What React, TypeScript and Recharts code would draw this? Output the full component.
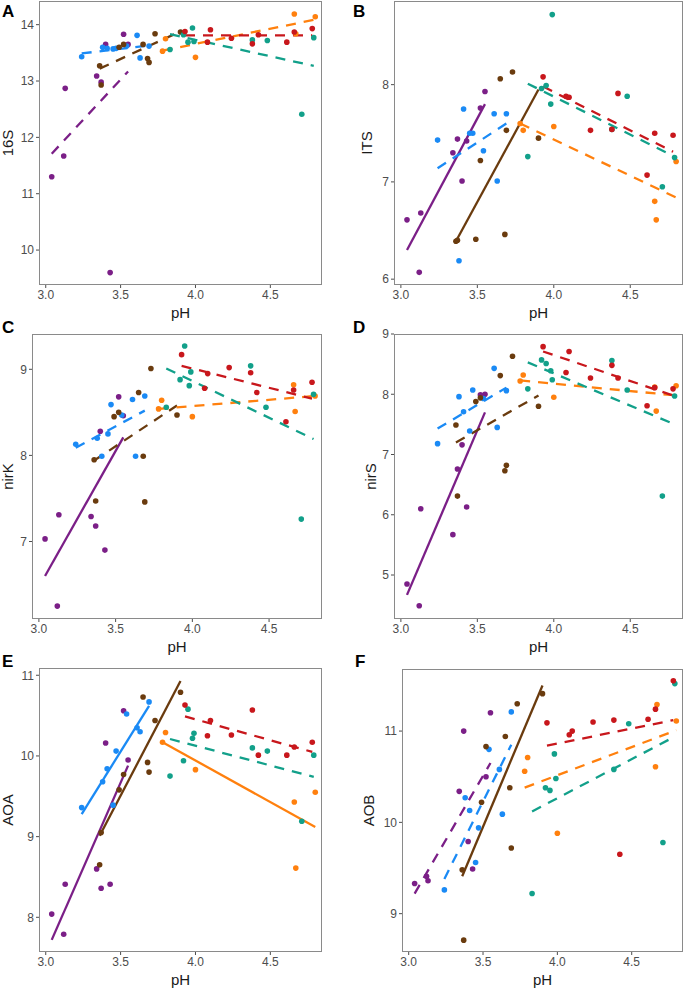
import React from "react";
import { ScatterChart, Scatter, XAxis, YAxis, ReferenceLine, Label } from "recharts";

// sample pH per colour group (same samples in every panel)
const PH_PURPLE = [3.04, 3.12, 3.13, 3.34, 3.37, 3.4, 3.43, 3.52, 3.55];
const PH_BLUE = [3.24, 3.38, 3.41, 3.45, 3.47, 3.54, 3.61, 3.63, 3.69];
const PH_BROWN = [3.36, 3.37, 3.49, 3.52, 3.65, 3.68, 3.69, 3.73, 3.9];
const PH_ORANGE = [3.78, 3.8, 4.0, 4.66, 4.67, 4.8];
const PH_TEAL = [3.83, 3.92, 3.95, 3.98, 3.99, 4.38, 4.48, 4.71, 4.79];
const PH_RED = [3.93, 4.08, 4.1, 4.24, 4.38, 4.42, 4.61, 4.66, 4.78];
const PH = [PH_PURPLE, PH_BLUE, PH_BROWN, PH_ORANGE, PH_TEAL, PH_RED];

const COLORS = ["#7B1F87", "#1A8AF5", "#6A3B0E", "#FF800E", "#12A08A", "#C8171C"];
const X_TICKS = [3.0, 3.5, 4.0, 4.5];

// A: 16S (values in group order purple, blue, brown, orange, teal, red)
const A_VALUES = [
  [11.3, 11.67, 12.87, 13.09, 12.98, 13.65, 9.6, 13.83, 13.65],
  [13.43, 13.6, 13.58, 13.57, 13.58, 13.62, 13.81, 13.41, 13.62],
  [13.27, 12.93, 13.6, 13.65, 13.65, 13.4, 13.33, 13.84, 13.87],
  [13.53, 13.75, 13.42, 14.19, 13.84, 14.14],
  [13.56, 13.82, 13.69, 13.94, 13.7, 13.73, 13.72, 12.41, 13.77],
  [13.88, 13.69, 13.91, 13.76, 13.66, 13.82, 13.69, 13.87, 13.93],
];
const A_FIT_START = [11.71, 13.49, 13.22, 13.54, 13.83, 13.81];
const A_FIT_END = [13.17, 13.63, 13.88, 14.09, 13.27, 13.81];
const A_SOLID = [false, false, false, false, false, false];

// B: ITS
const B_VALUES = [
  [6.61, 6.07, 6.68, 7.3, 7.44, 7.01, 7.42, 7.76, 7.93],
  [7.43, 6.19, 7.75, 7.5, 7.5, 7.32, 7.7, 7.01, 7.7],
  [6.39, 6.4, 6.41, 7.22, 8.06, 6.46, 7.53, 8.13, 7.45],
  [7.6, 7.53, 7.57, 6.8, 6.61, 7.21],
  [7.26, 7.96, 7.99, 7.8, 8.72, 7.54, 7.88, 6.95, 7.25],
  [8.08, 7.88, 7.87, 7.53, 7.54, 7.91, 7.07, 7.5, 7.48],
];
const B_FIT_START = [6.3, 7.14, 6.39, 7.6, 8.01, 7.98];
const B_FIT_END = [7.8, 7.6, 7.95, 6.84, 7.26, 7.31];
const B_SOLID = [true, false, true, false, false, false];

// C: nirK
const C_VALUES = [
  [7.03, 6.25, 7.31, 7.29, 7.18, 8.28, 6.9, 8.68, 8.46],
  [8.13, 8.2, 7.99, 8.25, 8.59, 8.47, 8.65, 7.99, 8.69],
  [7.95, 7.47, 8.45, 8.5, 8.73, 7.99, 7.46, 9.01, 8.47],
  [8.54, 8.64, 8.45, 8.82, 8.51, 8.69],
  [8.56, 8.88, 9.27, 8.81, 8.97, 9.04, 8.56, 7.26, 8.71],
  [9.17, 8.78, 8.95, 9.02, 8.96, 8.73, 8.39, 8.76, 8.85],
];
const C_FIT_START = [6.6, 8.09, 7.94, 8.54, 9.01, 9.04];
const C_FIT_END = [8.21, 8.52, 8.58, 8.69, 8.19, 8.66];
const C_SOLID = [true, false, false, false, false, false];

// D: nirS
const D_VALUES = [
  [4.85, 4.49, 6.1, 5.67, 6.76, 7.16, 6.13, 7.99, 8.0],
  [7.18, 7.96, 7.71, 7.39, 8.07, 7.93, 8.43, 7.45, 8.06],
  [7.49, 6.31, 7.88, 7.94, 8.31, 6.73, 6.82, 8.63, 7.8],
  [8.22, 8.32, 7.95, 8.12, 7.72, 8.14],
  [8.09, 8.57, 8.51, 8.39, 8.24, 8.56, 8.07, 6.31, 7.97],
  [8.79, 8.36, 8.71, 8.27, 8.48, 8.27, 7.81, 8.11, 8.09],
];
const D_FIT_START = [4.67, 7.43, 7.2, 8.23, 8.53, 8.71];
const D_FIT_END = [7.7, 8.11, 7.98, 7.98, 7.5, 7.98];
const D_SOLID = [true, false, false, false, false, false];

// E: AOA
const E_VALUES = [
  [8.04, 7.79, 8.41, 8.6, 8.36, 10.16, 8.41, 10.56, 9.95],
  [9.36, 9.68, 9.84, 9.39, 10.06, 10.52, 10.35, 10.3, 10.67],
  [8.65, 9.05, 9.58, 9.77, 10.73, 9.92, 9.8, 10.44, 10.79],
  [10.17, 10.29, 9.83, 9.43, 8.61, 9.55],
  [9.75, 9.94, 10.58, 10.22, 10.28, 10.1, 10.06, 9.19, 10.01],
  [10.63, 10.25, 10.44, 10.26, 10.57, 10.01, 10.01, 10.11, 10.17],
];
const E_FIT_START = [7.72, 9.28, 9.01, 10.17, 10.21, 10.49];
const E_FIT_END = [9.88, 10.62, 10.93, 9.12, 9.74, 10.05];
const E_SOLID = [true, true, true, true, false, false];

// F: AOB
const F_VALUES = [
  [9.33, 9.41, 9.36, 10.34, 11.0, 9.79, 9.49, 10.5, 11.2],
  [9.26, 10.27, 10.13, 9.56, 9.94, 10.8, 10.58, 10.09, 11.21],
  [9.48, 8.71, 10.22, 10.83, 10.94, 10.38, 9.72, 11.3, 11.41],
  [10.56, 10.71, 9.88, 10.61, 11.29, 11.11],
  [9.22, 10.38, 10.35, 10.75, 10.48, 10.58, 11.08, 9.78, 11.52],
  [11.09, 10.96, 11.0, 11.1, 11.12, 9.65, 11.13, 11.24, 11.55],
];
const F_FIT_START = [9.22, 9.38, 9.41, 10.38, 10.12, 10.84];
const F_FIT_END = [10.65, 10.85, 11.5, 11.01, 10.94, 11.12];
const F_SOLID = [false, false, true, false, false, false];

const FONT = '"Liberation Sans", Arial, Helvetica, sans-serif';
const BORDER = "#8a8a8a";
const TICK_COLOR = "#4d4d4d";
const X_DOMAIN: [number, number] = [2.955, 4.845];
const X_AXIS_H = 36;

function Panel({ letter, yTitle, left, top, box, titleX, yDomain, yTicks, values, fitStart, fitEnd, solid }: any) {
  const [bx0, by0, bx1, by1] = box;
  const width = bx1 - left + 2;
  const height = by1 - top + X_AXIS_H;
  const yAxisW = bx0 - left;

  return (
    <>
      <div
        style={{
          position: "absolute",
          left: letter.x,
          top: letter.y,
          fontFamily: FONT,
          fontWeight: 700,
          fontSize: 17,
          lineHeight: 1,
          color: "#000",
        }}
      >
        {letter.text}
      </div>
      <div style={{ position: "absolute", left, top }}>
        <ScatterChart width={width} height={height} margin={{ top: by0 - top, right: 2, left: 0, bottom: 0 }}>
          <XAxis
            dataKey="x"
            type="number"
            domain={X_DOMAIN}
            allowDataOverflow
            ticks={X_TICKS}
            interval={0}
            height={X_AXIS_H}
            tickFormatter={(v: number) => v.toFixed(1)}
            tick={{ fontSize: 12, fill: TICK_COLOR, fontFamily: FONT }}
            tickLine={{ stroke: TICK_COLOR }}
            tickSize={3}
            tickMargin={2}
            axisLine={false}
          >
            <Label value="pH" position="insideBottom" offset={3} fill="#1a1a1a" fontSize={15} style={{ fontFamily: FONT }} />
          </XAxis>
          <YAxis
            dataKey="y"
            type="number"
            domain={yDomain}
            allowDataOverflow
            ticks={yTicks}
            interval={0}
            width={yAxisW}
            tick={{ fontSize: 12, fill: TICK_COLOR, fontFamily: FONT }}
            tickLine={{ stroke: TICK_COLOR }}
            tickSize={3}
            tickMargin={2}
            axisLine={false}
          >
            <Label
              value={yTitle}
              angle={-90}
              position="insideLeft"
              offset={titleX - left}
              fill="#1a1a1a"
              fontSize={15}
              style={{ fontFamily: FONT, textAnchor: "middle" }}
            />
          </YAxis>
          {PH.map((xs, g) => (
            <Scatter
              key={`pts-${g}`}
              data={xs.map((x, i) => ({ x, y: values[g][i] }))}
              fill={COLORS[g]}
              isAnimationActive={false}
              shape={(p: any) => <circle cx={p.cx} cy={p.cy} r={2.8} fill={COLORS[g]} />}
            />
          ))}
          {PH.map((xs, g) => (
            <ReferenceLine
              key={`fit-${g}`}
              segment={[
                { x: xs[0], y: fitStart[g] },
                { x: xs[xs.length - 1], y: fitEnd[g] },
              ]}
              stroke={COLORS[g]}
              strokeWidth={2.3}
              strokeDasharray={solid[g] ? undefined : "10 8"}
              ifOverflow="visible"
            />
          ))}
        </ScatterChart>
      </div>
      {/* panel border */}
      <div
        style={{
          position: "absolute",
          left: bx0,
          top: by0,
          width: bx1 - bx0,
          height: by1 - by0,
          border: `1px solid ${BORDER}`,
          boxSizing: "border-box",
          pointerEvents: "none",
        }}
      />
    </>
  );
}

export default function App() {
  return (
    <div style={{ position: "absolute", left: 0, top: 0, width: 685, height: 990, background: "#fff" }}>
      <Panel
        letter={{ text: "A", x: 2, y: 3 }}
        yTitle="16S"
        left={0}
        top={0}
        box={[39, 1, 322, 285]}
        titleX={8}
        yDomain={[9.38, 14.42]}
        yTicks={[10, 11, 12, 13, 14]}
        values={A_VALUES}
        fitStart={A_FIT_START}
        fitEnd={A_FIT_END}
        solid={A_SOLID}
      />
      <Panel
        letter={{ text: "B", x: 353, y: 3 }}
        yTitle="ITS"
        left={350}
        top={0}
        box={[394, 1, 683, 285]}
        titleX={367}
        yDomain={[5.94, 8.86]}
        yTicks={[6, 7, 8]}
        values={B_VALUES}
        fitStart={B_FIT_START}
        fitEnd={B_FIT_END}
        solid={B_SOLID}
      />
      <Panel
        letter={{ text: "C", x: 2, y: 319 }}
        yTitle="nirK"
        left={0}
        top={320}
        box={[32, 334, 322, 619]}
        titleX={8}
        yDomain={[6.1, 9.41]}
        yTicks={[7, 8, 9]}
        values={C_VALUES}
        fitStart={C_FIT_START}
        fitEnd={C_FIT_END}
        solid={C_SOLID}
      />
      <Panel
        letter={{ text: "D", x: 353, y: 319 }}
        yTitle="nirS"
        left={350}
        top={320}
        box={[394, 334, 683, 619]}
        titleX={371}
        yDomain={[4.27, 9.0]}
        yTicks={[5, 6, 7, 8, 9]}
        values={D_VALUES}
        fitStart={D_FIT_START}
        fitEnd={D_FIT_END}
        solid={D_SOLID}
      />
      <Panel
        letter={{ text: "E", x: 2, y: 653 }}
        yTitle="AOA"
        left={0}
        top={640}
        box={[39, 668, 322, 952]}
        titleX={8}
        yDomain={[7.57, 11.09]}
        yTicks={[8, 9, 10, 11]}
        values={E_VALUES}
        fitStart={E_FIT_START}
        fitEnd={E_FIT_END}
        solid={E_SOLID}
      />
      <Panel
        letter={{ text: "F", x: 355, y: 653 }}
        yTitle="AOB"
        left={350}
        top={640}
        box={[402, 669, 683, 952]}
        titleX={369}
        yDomain={[8.58, 11.68]}
        yTicks={[9, 10, 11]}
        values={F_VALUES}
        fitStart={F_FIT_START}
        fitEnd={F_FIT_END}
        solid={F_SOLID}
      />
    </div>
  );
}
